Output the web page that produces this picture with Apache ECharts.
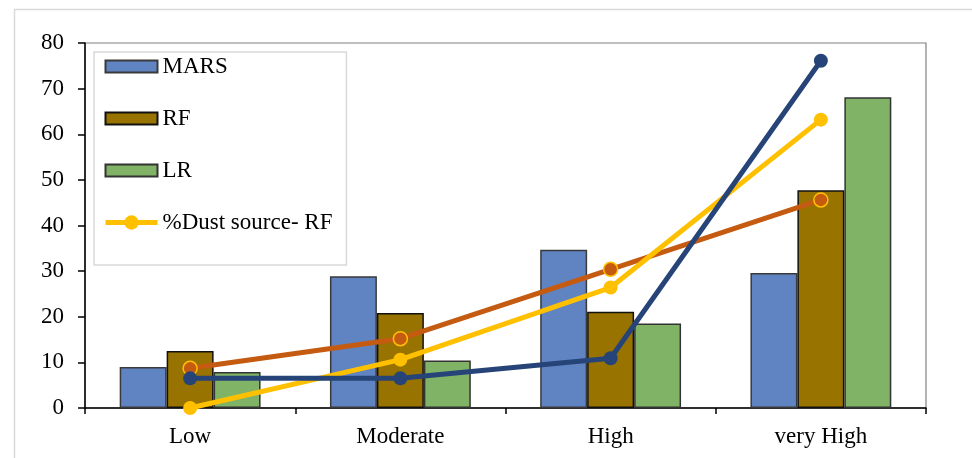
<!DOCTYPE html>
<html>
<head>
<meta charset="utf-8">
<script src="https://cdn.jsdelivr.net/npm/echarts@6/dist/echarts.min.js"></script>
<style>html,body{margin:0;padding:0;background:#fff}#c{width:972px;height:458px}</style>
</head>
<body>
<div id="c"></div>
<script>
var categories = ['Low', 'Moderate', 'High', 'very High'];
var marsBars = [9.0, 28.9, 34.7, 29.6];
var rfBars = [12.5, 20.8, 21.1, 47.7];
var lrBars = [7.9, 10.4, 18.5, 68.1];
var marsLine = [6.5, 6.5, 10.9, 76.1];
var rfLine = [8.7, 15.2, 30.4, 45.6];
var dustLine = [0, 10.6, 26.4, 63.2];
var yTicks = { min: 0, max: 80, interval: 10 };

var font = '"Liberation Serif", "Times New Roman", serif';
var barIcon = 'path://M0,0 M52,18 M0,3 L52,3 L52,15 L0,15 Z';
var chart = echarts.init(document.getElementById('c'));
chart.setOption({
  animation: false,
  backgroundColor: '#fff',
  graphic: [{
    type: 'rect', left: 12, top: 7, silent: true, z: -10,
    shape: { width: 960, height: 470 },
    style: { fill: 'none', stroke: '#d9d9d9', lineWidth: 1.5 }
  }],
  grid: { left: 85, right: 46, top: 43, bottom: 50, show: true, borderColor: '#808080', borderWidth: 1.2, backgroundColor: 'transparent' },
  legend: {
    orient: 'vertical', left: 94, top: 52,
    data: [
      { name: 'MARS', icon: barIcon },
      { name: 'RF', icon: barIcon },
      { name: 'LR', icon: barIcon },
      { name: '%Dust source- RF', lineStyle: { width: 5 } }
    ],
    itemWidth: 52, itemHeight: 18, itemGap: 29,
    padding: [3, 14, 31, 9],
    borderColor: '#d9d9d9', borderWidth: 1.5, backgroundColor: '#fff',
    textStyle: { fontFamily: font, fontSize: 23, color: '#000' }
  },
  xAxis: {
    type: 'category', data: categories,
    axisLine: { lineStyle: { color: '#000', width: 1.5 } },
    axisTick: { show: true, length: 6, lineStyle: { color: '#000', width: 1.5 } },
    axisLabel: { fontFamily: font, fontSize: 23, color: '#000', margin: 17 },
    splitLine: { show: false }
  },
  yAxis: {
    type: 'value', min: yTicks.min, max: yTicks.max, interval: yTicks.interval,
    axisLine: { show: true, lineStyle: { color: '#000', width: 1.5 } },
    axisTick: { show: true, length: 7, lineStyle: { color: '#000', width: 1.5 } },
    axisLabel: { fontFamily: font, fontSize: 23, color: '#000', margin: 21 },
    splitLine: { show: false }
  },
  series: [
    { name: 'MARS', type: 'bar', data: marsBars, barGap: '0%', barCategoryGap: '33%',
      itemStyle: { color: '#6083C2', borderColor: '#3a3a3a', borderWidth: 1.5 } },
    { name: 'RF', type: 'bar', data: rfBars,
      itemStyle: { color: '#997300', borderColor: '#111', borderWidth: 1.5 } },
    { name: 'LR', type: 'bar', data: lrBars,
      itemStyle: { color: '#80B366', borderColor: '#333', borderWidth: 1.5 } },
    { name: '%Dust source- MARS2', type: 'line', data: rfLine, symbol: 'circle', symbolSize: 14,
      lineStyle: { color: '#C55A11', width: 5 },
      itemStyle: { color: '#C55A11', borderColor: '#FFC000', borderWidth: 1.5 }, z: 3 },
    { name: '%Dust source- RF', type: 'line', data: dustLine, symbol: 'circle', symbolSize: 14,
      lineStyle: { color: '#FFC000', width: 5 },
      itemStyle: { color: '#FFC000', borderColor: '#FFC000', borderWidth: 0 }, z: 4 },
    { name: '%Dust source- MARS', type: 'line', data: marsLine, symbol: 'circle', symbolSize: 14,
      lineStyle: { color: '#264478', width: 5 },
      itemStyle: { color: '#264478', borderColor: '#264478', borderWidth: 0 }, z: 5 }
  ]
});
</script>
</body>
</html>
